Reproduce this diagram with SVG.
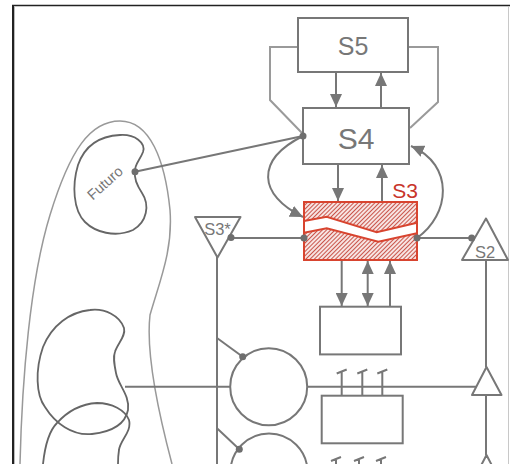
<svg xmlns="http://www.w3.org/2000/svg" width="510" height="464" viewBox="0 0 510 464">
<defs>
<style>
.ln{fill:none;stroke:#777;stroke-width:2}
.lt{fill:none;stroke:#9a9a9a;stroke-width:2}
.blob{fill:none;stroke:#666;stroke-width:1.8}
.outer{fill:none;stroke:#999;stroke-width:1.5}
.box{fill:#fff;stroke:#777;stroke-width:2}
.tri{fill:#fff;stroke:#777;stroke-width:2;stroke-linejoin:round}
.dot{fill:#6e6e6e}
.t{font-family:"Liberation Sans",Arial,sans-serif;fill:#777;text-anchor:middle}
</style>
<marker id="ah" viewBox="0 0 13 12" refX="13" refY="6" markerWidth="13" markerHeight="12" markerUnits="userSpaceOnUse" orient="auto-start-reverse">
<path d="M0,0 L13,6 L0,12 z" fill="#777"/>
</marker>
<pattern id="hatch" width="3" height="3" patternUnits="userSpaceOnUse" patternTransform="rotate(45)">
<rect width="3" height="3" fill="#f7e4e2"/>
<line x1="0.5" y1="0" x2="0.5" y2="3" stroke="#c9554b" stroke-width="1"/>
</pattern>
</defs>
<rect width="510" height="464" fill="#fff"/>
<line x1="12" y1="5.5" x2="510" y2="5.5" stroke="#222" stroke-width="1.6"/>
<line x1="13" y1="5" x2="13" y2="464" stroke="#222" stroke-width="2"/>
<line x1="14.5" y1="6" x2="14.5" y2="464" stroke="#bbb" stroke-width="1"/>
<line x1="508.5" y1="6" x2="508.5" y2="464" stroke="#c8c8c8" stroke-width="1"/>

<g id="connectors">
<path class="outer" d="M20,464 C22,380 30,280 50,215 C70,150 90,121 120,121 C150,121 165,160 170,210 C173,250 160,280 150,315 C146,350 155,400 172,464"/>
<path class="lt" d="M298,47 H270 V100 L302,133"/>
<path class="lt" d="M408,47 H438 V102 L410,128"/>
<line class="ln" x1="135" y1="171.7" x2="303" y2="136" stroke-width="1.6"/>
<path class="ln" d="M336,72 V107" marker-end="url(#ah)"/>
<path class="ln" d="M381,108 V73" marker-end="url(#ah)"/>
<path class="ln" d="M338,164 V201" marker-end="url(#ah)"/>
<path class="ln" d="M382,202 V165" marker-end="url(#ah)"/>
<path class="ln" d="M303,136 C255,160 258,195 303,217" marker-end="url(#ah)"/>
<path class="ln" d="M417,238 C450,215 455,165 411,146" marker-end="url(#ah)"/>
<line class="ln" x1="231" y1="238" x2="304" y2="238"/>
<line class="ln" x1="417" y1="238" x2="472" y2="238"/>
<line class="ln" x1="217" y1="257" x2="217" y2="464"/>
<line class="ln" x1="217" y1="338" x2="242.7" y2="356.7"/>
<line class="ln" x1="217" y1="428.3" x2="239.3" y2="449.3"/>
<line class="ln" x1="125" y1="386.7" x2="230.5" y2="386.7"/>
<line class="ln" x1="307" y1="386.7" x2="479" y2="386.7"/>
<line class="ln" x1="486" y1="260" x2="486" y2="367"/>
<line class="ln" x1="486" y1="395" x2="486" y2="455"/>
<path class="ln" d="M341.7,261 V306" marker-end="url(#ah)"/>
<path class="ln" d="M367.7,261 V306" marker-start="url(#ah)" marker-end="url(#ah)"/>
<path class="ln" d="M390,306.7 V261" marker-end="url(#ah)"/>
<path class="ln" d="M341.7,395.7 V371.5 M336.7,373.5 L346.7,369.5 M362.3,395.7 V371.5 M357.3,373.5 L367.3,369.5 M382.3,395.7 V371.5 M377.3,373.5 L387.3,369.5"/>
<path class="ln" d="M336,464 V459 M331,461 L341,457 M359,464 V459 M354,461 L364,457 M381,464 V459 M376,461 L386,457"/>
</g>

<g id="S5">
<rect class="box" x="298" y="18" width="110" height="54"/>
<text class="t" x="353" y="55" font-size="25">S5</text>
</g>
<g id="S4">
<rect class="box" x="303" y="108" width="106" height="56"/>
<text class="t" x="356" y="148.5" font-size="30">S4</text>
</g>
<g id="S3">
<rect x="304" y="202" width="113" height="58" fill="url(#hatch)" stroke="#d8442f" stroke-width="2"/>
<polygon points="305,221 326.7,216.7 376.7,232.3 416,222.7 416,233.3 378.3,241.7 326.7,228.3 305,232.7" fill="#fff"/>
<polyline points="304,221 326.7,216.7 376.7,232.3 417,222.7" fill="none" stroke="#d8442f" stroke-width="2"/>
<polyline points="304,232.7 326.7,228.3 378.3,241.7 417,233.3" fill="none" stroke="#d8442f" stroke-width="2"/>
<text x="418" y="198" font-size="21" font-family="Liberation Sans, Arial, sans-serif" fill="#c8342a" text-anchor="end">S3</text>
</g>
<g id="S3star">
<polygon class="tri" points="195,217 240.5,217 217.5,257.5"/>
<text class="t" x="217.5" y="235" font-size="16.5">S3*</text>
</g>
<g id="S2">
<polygon class="tri" points="486,218.5 462,260 508,260"/>
<text class="t" x="485" y="257.5" font-size="16.5">S2</text>
</g>
<g id="tri2">
<polygon class="tri" points="486.5,367 472,395 501.5,395"/>
</g>
<g id="tri3">
<polygon class="tri" points="486.5,455 472,483 501,483"/>
</g>
<g id="box1">
<rect class="box" x="320" y="306.7" width="81" height="47.7"/>
</g>
<g id="box2">
<rect class="box" x="321.7" y="395.7" width="81" height="47.6"/>
</g>
<g id="circle1">
<circle cx="268.7" cy="386.7" r="38.5" fill="none" stroke="#777" stroke-width="2"/>
</g>
<g id="circle2">
<circle cx="269" cy="472" r="38.5" fill="none" stroke="#777" stroke-width="2"/>
</g>
<g id="futuro">
<path class="blob" d="M135,171.7 C134,165 140,160 143,152 C146,143 135,134 120,135 C100,136 85,145 78,165 C72,185 73,210 85,222 C95,232 115,238 133,230 C147,222 150,205 142,193 C136,184 134,178 135,171.7 Z"/>
<text class="t" x="105" y="188" font-size="14.5" transform="rotate(-42 105 183)">Futuro</text>
</g>
<g id="blob2">
<path class="blob" d="M115,351.7 C118,343 126,336 124,328 C120,316 105,308 90,310 C70,312 52,325 43,347 C35,370 36,395 45,407 C55,423 72,436 92,434 C110,432 125,425 128,410 C130,395 118,385 116,373 C114,363 113,357 115,351.7 Z"/>
</g>
<g id="blob3">
<path class="blob" d="M43,464 C45,445 50,430 57,423 C66,413 80,404 97,403 C112,403 125,410 129,420 C132,432 120,440 119,450 C118,456 118,460 118,464"/>
</g>
<g id="dots">
<circle class="dot" cx="303" cy="136" r="3.5"/>
<circle class="dot" cx="135" cy="171.7" r="3.5"/>
<circle class="dot" cx="231" cy="237.5" r="3.5"/>
<circle class="dot" cx="304" cy="238" r="3.5"/>
<circle class="dot" cx="417" cy="238" r="3.5"/>
<circle class="dot" cx="471.7" cy="238" r="3.5"/>
<circle class="dot" cx="242.7" cy="356.7" r="3.5"/>
<circle class="dot" cx="239.3" cy="449.3" r="3.5"/>
</g>
</svg>
